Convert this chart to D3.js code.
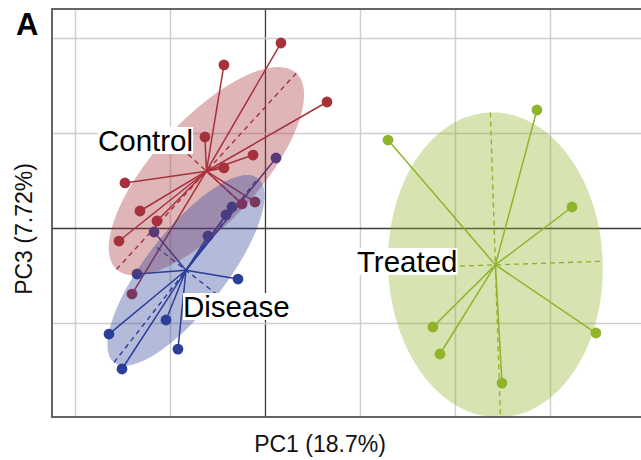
<!DOCTYPE html>
<html>
<head>
<meta charset="utf-8">
<script src="https://cdn.jsdelivr.net/npm/d3@7"></script>
<style>
  html, body { margin: 0; padding: 0; background: #fff; }
  svg { display: block; font-family: "Liberation Sans", Arial, Helvetica, sans-serif; }
</style>
</head>
<body>
<svg id="chart" width="641" height="460"></svg>
<script>
// PCA scores (PC1, PC3) per sample, grouped by condition
const groups = ["Control", "Disease", "Treated"];

const controlPC1 = [0.168, -0.432, 0.653, -0.632, -0.126, -0.432, -1.474, -1.316, -1.137, -0.242, -0.105, -1.537, -1.400];
const controlPC3 = [1.947, 1.716, 1.326, 0.958, 0.768, 0.632, 0.474, 0.179, 0.074, 0.253, 0.274, -0.137, -0.695];

const diseasePC1 = [0.116, -0.347, -0.411, -0.600, -1.168, -1.347, -0.284, -1.042, -1.642, -0.916, -1.505];
const diseasePC3 = [0.737, 0.221, 0.137, -0.084, -0.042, -0.484, -0.537, -0.968, -1.116, -1.274, -1.484];

const treatedPC1 = [1.295, 2.863, 3.232, 1.768, 1.842, 2.495, 3.484];
const treatedPC3 = [0.926, 1.242, 0.221, -1.042, -1.326, -1.632, -1.105];

// Dispersion ellipses: semi-axes (PC units) and major-axis angle (degrees)
const ellipseMajor = [1.40, 1.23, 1.605];
const ellipseMinor = [0.547, 0.42, 1.13];
const ellipseAngle = [47.5, 52, -88.1];

const xGridTicks = [-2, -1, 0, 1, 2, 3];
const yGridTicks = [-1, 0, 1, 2];

const xTitle = "PC1 (18.7%)";
const yTitle = "PC3 (7.72%)";
const panelTag = "A";

// ---- styling ----
const colors = { Control: "#a7313a", Disease: "#2b3f99", Treated: "#8fb52a" };
const labelAnchor = { Control: [-1.758, 0.811], Disease: [-0.863, -0.937], Treated: [0.968, -0.463] };

const W = 641, H = 460;
const plot = { left: 52, top: 9, right: 646, bottom: 417 };

const svg = d3.select("#chart");

const x = d3.scaleLinear().domain([-2.242, 4.011]).range([plot.left, plot.right]);
const y = d3.scaleLinear().domain([-1.989, 2.305]).range([plot.bottom, plot.top]);

svg.append("defs").append("clipPath").attr("id", "plotClip")
  .append("rect")
  .attr("x", plot.left).attr("y", plot.top)
  .attr("width", plot.right - plot.left).attr("height", plot.bottom - plot.top);

// ---- grid (axes with full-length ticks, no labels) ----
const gx = svg.append("g")
  .attr("transform", `translate(0,${plot.bottom})`)
  .call(d3.axisBottom(x).tickValues(xGridTicks).tickSize(-(plot.bottom - plot.top)).tickFormat(""));
const gy = svg.append("g")
  .attr("transform", `translate(${plot.left},0)`)
  .call(d3.axisLeft(y).tickValues(yGridTicks).tickSize(-(plot.right - plot.left)).tickFormat(""));
[gx, gy].forEach(g => {
  g.select(".domain").remove();
  g.selectAll(".tick line")
    .attr("stroke", d => d === 0 ? "#3c3c3c" : "#cfcfcf")
    .attr("stroke-width", d => d === 0 ? 1.3 : 1.5);
});

const layer = svg.append("g").attr("clip-path", "url(#plotClip)");
const starLayer = layer.append("g");
const pointLayer = layer.append("g");
const boxLayer = svg.append("g");
const ellipseLayer = layer.append("g");
const textLayer = svg.append("g");

const sets = [
  { name: "Control", px: controlPC1, py: controlPC3 },
  { name: "Disease", px: diseasePC1, py: diseasePC3 },
  { name: "Treated", px: treatedPC1, py: treatedPC3 }
];

const ring = d3.range(0, 2 * Math.PI, Math.PI / 90);
const closedLine = d3.line().x(d => x(d[0])).y(d => y(d[1])).curve(d3.curveLinearClosed);

sets.forEach((s, i) => {
  const col = colors[s.name];
  const pts = s.px.map((v, k) => [v, s.py[k]]);
  const cx = d3.mean(s.px), cy = d3.mean(s.py);
  const a = ellipseMajor[i], b = ellipseMinor[i];
  const th = ellipseAngle[i] * Math.PI / 180;
  const u = [Math.cos(th), Math.sin(th)], v = [-Math.sin(th), Math.cos(th)];

  // ellipse principal axes (dashed)
  [[u, a], [v, b]].forEach(([dir, len]) => {
    starLayer.append("line")
      .attr("x1", x(cx - dir[0] * len)).attr("y1", y(cy - dir[1] * len))
      .attr("x2", x(cx + dir[0] * len)).attr("y2", y(cy + dir[1] * len))
      .attr("stroke", col).attr("stroke-width", 1.4)
      .attr("stroke-dasharray", "5,4");
  });

  // star segments from group centroid to each sample
  starLayer.selectAll(null).data(pts).enter().append("line")
    .attr("x1", x(cx)).attr("y1", y(cy))
    .attr("x2", d => x(d[0])).attr("y2", d => y(d[1]))
    .attr("stroke", col).attr("stroke-width", 1.5);

  pointLayer.selectAll(null).data(pts).enter().append("circle")
    .attr("cx", d => x(d[0])).attr("cy", d => y(d[1]))
    .attr("r", 5.4).attr("fill", col);

  const outline = ring.map(t => [
    cx + a * Math.cos(t) * u[0] + b * Math.sin(t) * v[0],
    cy + a * Math.cos(t) * u[1] + b * Math.sin(t) * v[1]
  ]);
  ellipseLayer.append("path")
    .attr("d", closedLine(outline))
    .attr("fill", col).attr("fill-opacity", 0.36).attr("stroke", "none");

  // group label on a white box
  const [lx, ly] = labelAnchor[s.name];
  const t = textLayer.append("text")
    .attr("x", x(lx)).attr("y", y(ly))
    .attr("font-size", 29.5).attr("fill", "#000")
    .attr("stroke", "#fff").attr("stroke-width", 2.5).attr("stroke-linejoin", "round")
    .attr("paint-order", "stroke")
    .text(s.name);
  const bb = t.node().getBBox();
  boxLayer.append("rect")
    .attr("x", bb.x).attr("y", bb.y + 3)
    .attr("width", bb.width).attr("height", bb.height - 6)
    .attr("fill", "#fff");
});

// plot frame
svg.append("rect")
  .attr("x", plot.left).attr("y", plot.top)
  .attr("width", plot.right - plot.left).attr("height", plot.bottom - plot.top)
  .attr("fill", "none").attr("stroke", "#555").attr("stroke-width", 1.8);

// axis titles and panel tag
svg.append("text")
  .attr("x", 320).attr("y", 452)
  .attr("text-anchor", "middle").attr("font-size", 23).attr("fill", "#111")
  .text(xTitle);
svg.append("text")
  .attr("transform", "translate(32,229) rotate(-90)")
  .attr("text-anchor", "middle").attr("font-size", 23).attr("fill", "#111")
  .text(yTitle);
svg.append("text")
  .attr("x", 16).attr("y", 35)
  .attr("font-size", 31).attr("font-weight", "bold").attr("fill", "#000")
  .text(panelTag);
</script>
</body>
</html>
